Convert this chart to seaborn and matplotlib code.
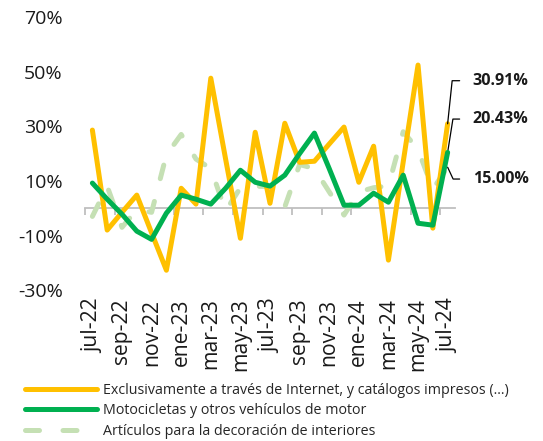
import matplotlib
matplotlib.use("Agg")
import matplotlib.pyplot as plt
from matplotlib.lines import Line2D
from matplotlib.ticker import FixedLocator, FuncFormatter
import numpy as np
import pandas as pd
import seaborn as sns

# monthly change (%), jul-22 .. jul-24
meses = ["jul-22", "ago-22", "sep-22", "oct-22", "nov-22", "dic-22",
         "ene-23", "feb-23", "mar-23", "abr-23", "may-23", "jun-23",
         "jul-23", "ago-23", "sep-23", "oct-23", "nov-23", "dic-23",
         "ene-24", "feb-24", "mar-24", "abr-24", "may-24", "jun-24", "jul-24"]

internet = [28.6, -8.0, -1.5, 4.8, -9.0, -22.7, 7.3, 1.5, 47.6, 18.0, -11.0, 27.8,
            1.8, 31.1, 16.8, 17.2, 23.5, 29.7, 9.5, 22.7, -19.0, 17.0, 52.4, -7.3, 30.91]
motos = [9.2, 3.3, -2.2, -8.4, -11.4, -1.8, 4.8, 3.3, 1.5, 7.3, 13.9, 9.5,
         8.1, 12.1, 20.0, 27.5, 14.5, 1.1, 1.1, 5.5, 2.2, 12.1, -5.5, -6.2, 20.43]
decoracion = [-3.0, 8.0, -7.0, -0.5, -1.5, 19.5, 27.0, 18.0, 14.5, -1.0, 7.5, 8.0,
              8.0, 0.5, 16.0, 14.5, 6.0, -2.5, 6.0, 7.5, 8.2, 28.0, 21.5, 7.0, 15.00]

series = ["Exclusivamente a través de Internet, y catálogos impresos (...)",
          "Motocicletas y otros vehículos de motor",
          "Artículos para la decoración de interiores"]
colores = ["#FFC000", "#00B050", "#C5E0B4"]
guion = (2.8, 4.7)

df = pd.DataFrame({"pos": np.arange(len(meses)), "mes": meses,
                   series[0]: internet, series[1]: motos, series[2]: decoracion})
largo = df.melt(id_vars=["pos", "mes"], var_name="serie", value_name="valor")

sns.set_style("white")
plt.rcParams["font.family"] = ["Open Sans", "DejaVu Sans"]

fig = plt.figure(figsize=(5.43, 4.41), dpi=100)
ax = fig.add_axes([0.1565, 0.342, 0.6815, 0.6195])

orden = [2, 0, 1]
for k, i in enumerate(orden):
    sub = largo[largo["serie"] == series[i]]
    sns.lineplot(data=sub, x="pos", y="valor", color=colores[i], lw=3.6,
                 ax=ax, legend=False, zorder=2 + k)
lineas = ax.get_lines()
lineas[0].set_dashes(guion)
lineas[0].set_dash_capstyle("round")

ax.set_xlim(-0.5, len(meses) - 0.5)
ax.set_ylim(-30, 70)
ax.set_yticks([-30, -10, 10, 30, 50, 70])
ax.yaxis.set_major_formatter(FuncFormatter(lambda v, p: f"{v:.0f}%"))
ax.tick_params(axis="y", length=0, pad=16, labelsize=14, labelcolor="#1a1a1a")

ax.set_xticks(df["pos"][::2])
ax.set_xticklabels(df["mes"][::2], rotation=90)
ax.tick_params(axis="x", length=0, pad=6, labelsize=15.2, labelcolor="#1a1a1a")
ax.set_xlabel("")
ax.set_ylabel("")
for s in ax.spines.values():
    s.set_visible(False)

# zero line with category tick marks
sec = ax.secondary_xaxis(0.3)
sec.spines["bottom"].set_color("#BFBFBF")
sec.spines["bottom"].set_linewidth(1.3)
sec.xaxis.set_major_locator(FixedLocator(np.arange(-0.5, len(meses) - 1, 2)))
sec.tick_params(axis="x", length=5, width=1.3, color="#BFBFBF", labelbottom=False)

# end-point labels
ult = len(meses) - 1
etiquetas = [(internet[-1], 31, 84), (motos[-1], 24, 81), (decoracion[-1], -8.5, -65)]
for val, dy, ang in etiquetas:
    ax.annotate(f"{val:.2f}%", xy=(ult, val), xytext=(18, dy), textcoords="offset points",
                ha="left", va="center", fontsize=11.6, fontweight="bold", color="#1a1a1a",
                annotation_clip=False,
                arrowprops=dict(arrowstyle="-", color="black", lw=0.9, relpos=(0, 0.5),
                                shrinkA=7, shrinkB=0,
                                connectionstyle=f"angle,angleA=0,angleB={ang},rad=0"))

handles = [Line2D([], [], color=colores[0], lw=3.6, solid_capstyle="round"),
           Line2D([], [], color=colores[1], lw=3.6, solid_capstyle="round"),
           Line2D([], [], color=colores[2], lw=3.6, dashes=guion, dash_capstyle="round")]
fig.legend(handles, series, loc="upper left", bbox_to_anchor=(0.046, 0.132),
           frameon=False, fontsize=10.3, handlelength=5.0, handletextpad=0.45,
           labelspacing=0.38, borderpad=0, borderaxespad=0)

fig.savefig("out.png", dpi=100)
